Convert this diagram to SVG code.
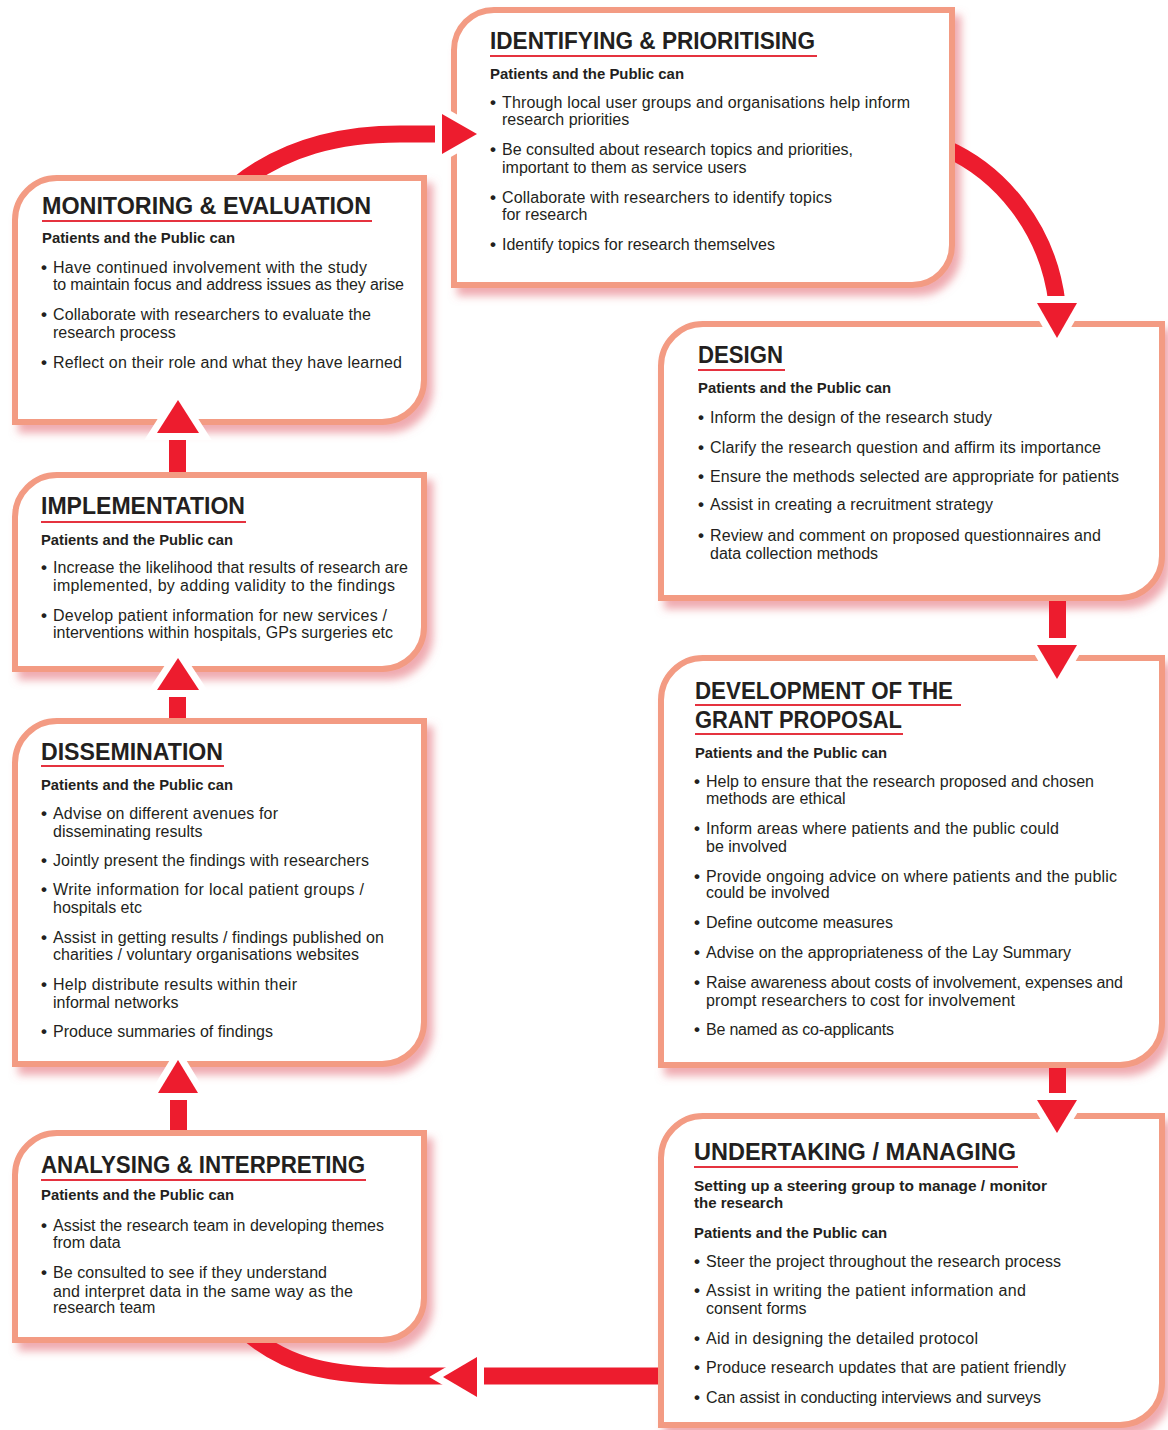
<svg xmlns="http://www.w3.org/2000/svg" width="1168" height="1430" viewBox="0 0 1168 1430">
<defs>
<style>
.box{fill:#fff;stroke:#F39B83;stroke-width:6;filter:url(#sh)}
.t{font-family:"Liberation Sans",Arial,sans-serif;font-size:16px;fill:#231F20}
.b{font-family:"Liberation Sans",Arial,sans-serif;font-size:17px;font-weight:bold;fill:#231F20}
.h{font-family:"Liberation Sans",Arial,sans-serif;font-size:24px;font-weight:bold;fill:#231F20}
.s{font-family:"Liberation Sans",Arial,sans-serif;font-size:15px;font-weight:bold;fill:#231F20}
.ul{stroke:#E5323F;stroke-width:2.2}
.band{fill:none;stroke:#ED1C2E;stroke-width:17}
.bar{fill:#ED1C2E}
.head{fill:#ED1C2E;stroke:#fff;stroke-width:14;stroke-linejoin:miter;paint-order:stroke}
</style>
<filter id="sh" x="-5%" y="-5%" width="115%" height="120%">
<feGaussianBlur in="SourceAlpha" stdDeviation="4"/>
<feOffset dx="6" dy="8" result="b"/>
<feFlood flood-color="#E2646F" flood-opacity="0.55"/>
<feComposite in2="b" operator="in"/>
<feMerge><feMergeNode/><feMergeNode in="SourceGraphic"/></feMerge>
</filter>
<clipPath id="out"><path clip-rule="evenodd" d="M0 0H1168V1430H0Z M451 7H955V288H451Z M12 175H427V425H12Z M658 321H1165V601H658Z M658 655H1165V1068H658Z M658 1113H1165V1428H658Z M12 472H427V672H12Z M12 718H427V1067H12Z M12 1130H427V1343H12Z"/></clipPath>
</defs>
<rect width="1168" height="1430" fill="#fff"/>

<g id="identifying">
<path class="box" d="M454 50A40 40 0 0 1 494 10H952V245A40 40 0 0 1 912 285H454Z"/>
<text class="h" x="490" y="49" textLength="325" lengthAdjust="spacingAndGlyphs">IDENTIFYING &amp; PRIORITISING</text>
<line class="ul" x1="490" y1="56" x2="817" y2="56"/>
<text class="s" x="490" y="79" textLength="194" lengthAdjust="spacingAndGlyphs">Patients and the Public can</text>
<text class="b" x="490" y="108">•</text><text class="t" x="502" y="108" textLength="408">Through local user groups and organisations help inform</text>
<text class="t" x="502" y="125">research priorities</text>
<text class="b" x="490" y="155">•</text><text class="t" x="502" y="155" textLength="351">Be consulted about research topics and priorities,</text>
<text class="t" x="502" y="173">important to them as service users</text>
<text class="b" x="490" y="203">•</text><text class="t" x="502" y="203" textLength="330">Collaborate with researchers to identify topics</text>
<text class="t" x="502" y="220">for research</text>
<text class="b" x="490" y="250">•</text><text class="t" x="502" y="250" textLength="273">Identify topics for research themselves</text>
</g>

<g id="monitoring">
<path class="box" d="M15 220A42 42 0 0 1 57 178H424V380A42 42 0 0 1 382 422H15Z"/>
<text class="h" x="42" y="214" textLength="329" lengthAdjust="spacingAndGlyphs">MONITORING &amp; EVALUATION</text>
<line class="ul" x1="42" y1="221" x2="372" y2="221"/>
<text class="s" x="42" y="243" textLength="193" lengthAdjust="spacingAndGlyphs">Patients and the Public can</text>
<text class="b" x="41" y="273">•</text><text class="t" x="53" y="273" textLength="314">Have continued involvement with the study</text>
<text class="t" x="53" y="290" textLength="351">to maintain focus and address issues as they arise</text>
<text class="b" x="41" y="320">•</text><text class="t" x="53" y="320" textLength="318">Collaborate with researchers to evaluate the</text>
<text class="t" x="53" y="338">research process</text>
<text class="b" x="41" y="368">•</text><text class="t" x="53" y="368" textLength="349">Reflect on their role and what they have learned</text>
</g>

<g id="design">
<path class="box" d="M661 366A42 42 0 0 1 703 324H1162V556A42 42 0 0 1 1120 598H661Z"/>
<text class="h" x="698" y="363" textLength="85" lengthAdjust="spacingAndGlyphs">DESIGN</text>
<line class="ul" x1="698" y1="370" x2="785" y2="370"/>
<text class="s" x="698" y="393" textLength="193" lengthAdjust="spacingAndGlyphs">Patients and the Public can</text>
<text class="b" x="698" y="423">•</text><text class="t" x="710" y="423" textLength="282">Inform the design of the research study</text>
<text class="b" x="698" y="453">•</text><text class="t" x="710" y="453" textLength="391">Clarify the research question and affirm its importance</text>
<text class="b" x="698" y="482">•</text><text class="t" x="710" y="482" textLength="409">Ensure the methods selected are appropriate for patients</text>
<text class="b" x="698" y="510">•</text><text class="t" x="710" y="510" textLength="283">Assist in creating a recruitment strategy</text>
<text class="b" x="698" y="541">•</text><text class="t" x="710" y="541" textLength="391">Review and comment on proposed questionnaires and</text>
<text class="t" x="710" y="559">data collection methods</text>
</g>

<g id="development">
<path class="box" d="M661 700A42 42 0 0 1 703 658H1162V1023A42 42 0 0 1 1120 1065H661Z"/>
<text class="h" x="695" y="699" textLength="258" lengthAdjust="spacingAndGlyphs">DEVELOPMENT OF THE</text>
<line class="ul" x1="695" y1="705" x2="961" y2="705"/>
<text class="h" x="695" y="728" textLength="207" lengthAdjust="spacingAndGlyphs">GRANT PROPOSAL</text>
<line class="ul" x1="695" y1="734" x2="903" y2="734"/>
<text class="s" x="695" y="758" textLength="192" lengthAdjust="spacingAndGlyphs">Patients and the Public can</text>
<text class="b" x="694" y="787">•</text><text class="t" x="706" y="787" textLength="388">Help to ensure that the research proposed and chosen</text>
<text class="t" x="706" y="804">methods are ethical</text>
<text class="b" x="694" y="834">•</text><text class="t" x="706" y="834" textLength="353">Inform areas where patients and the public could</text>
<text class="t" x="706" y="852">be involved</text>
<text class="b" x="694" y="882">•</text><text class="t" x="706" y="882" textLength="411">Provide ongoing advice on where patients and the public</text>
<text class="t" x="706" y="898">could be involved</text>
<text class="b" x="694" y="928">•</text><text class="t" x="706" y="928" textLength="187">Define outcome measures</text>
<text class="b" x="694" y="958">•</text><text class="t" x="706" y="958" textLength="365">Advise on the appropriateness of the Lay Summary</text>
<text class="b" x="694" y="988">•</text><text class="t" x="706" y="988" textLength="417">Raise awareness about costs of involvement, expenses and</text>
<text class="t" x="706" y="1006" textLength="309">prompt researchers to cost for involvement</text>
<text class="b" x="694" y="1035">•</text><text class="t" x="706" y="1035" textLength="188">Be named as co-applicants</text>
</g>

<g id="undertaking">
<path class="box" d="M661 1158A42 42 0 0 1 703 1116H1162V1383A42 42 0 0 1 1120 1425H661Z"/>
<text class="h" x="694" y="1160" textLength="322" lengthAdjust="spacingAndGlyphs">UNDERTAKING / MANAGING</text>
<line class="ul" x1="694" y1="1167" x2="1018" y2="1167"/>
<text class="s" x="694" y="1191" textLength="353" lengthAdjust="spacingAndGlyphs">Setting up a steering group to manage / monitor</text>
<text class="s" x="694" y="1208">the research</text>
<text class="s" x="694" y="1238" textLength="193" lengthAdjust="spacingAndGlyphs">Patients and the Public can</text>
<text class="b" x="694" y="1267">•</text><text class="t" x="706" y="1267" textLength="355">Steer the project throughout the research process</text>
<text class="b" x="694" y="1296">•</text><text class="t" x="706" y="1296" textLength="320">Assist in writing the patient information and</text>
<text class="t" x="706" y="1314">consent forms</text>
<text class="b" x="694" y="1344">•</text><text class="t" x="706" y="1344" textLength="272">Aid in designing the detailed protocol</text>
<text class="b" x="694" y="1373">•</text><text class="t" x="706" y="1373" textLength="360">Produce research updates that are patient friendly</text>
<text class="b" x="694" y="1403">•</text><text class="t" x="706" y="1403" textLength="335">Can assist in conducting interviews and surveys</text>
</g>

<g id="implementation">
<path class="box" d="M15 517A42 42 0 0 1 57 475H424V627A42 42 0 0 1 382 669H15Z"/>
<text class="h" x="41" y="514" textLength="204" lengthAdjust="spacingAndGlyphs">IMPLEMENTATION</text>
<line class="ul" x1="41" y1="522" x2="246" y2="522"/>
<text class="s" x="41" y="545" textLength="192" lengthAdjust="spacingAndGlyphs">Patients and the Public can</text>
<text class="b" x="41" y="573">•</text><text class="t" x="53" y="573" textLength="355">Increase the likelihood that results of research are</text>
<text class="t" x="53" y="591" textLength="342">implemented, by adding validity to the findings</text>
<text class="b" x="41" y="621">•</text><text class="t" x="53" y="621" textLength="334">Develop patient information for new services /</text>
<text class="t" x="53" y="638" textLength="340">interventions within hospitals, GPs surgeries etc</text>
</g>

<g id="dissemination">
<path class="box" d="M15 763A42 42 0 0 1 57 721H424V1022A42 42 0 0 1 382 1064H15Z"/>
<text class="h" x="41" y="760" textLength="182" lengthAdjust="spacingAndGlyphs">DISSEMINATION</text>
<line class="ul" x1="41" y1="766" x2="224" y2="766"/>
<text class="s" x="41" y="790" textLength="192" lengthAdjust="spacingAndGlyphs">Patients and the Public can</text>
<text class="b" x="41" y="819">•</text><text class="t" x="53" y="819" textLength="225">Advise on different avenues for</text>
<text class="t" x="53" y="837">disseminating results</text>
<text class="b" x="41" y="866">•</text><text class="t" x="53" y="866" textLength="316">Jointly present the findings with researchers</text>
<text class="b" x="41" y="895">•</text><text class="t" x="53" y="895" textLength="311">Write information for local patient groups /</text>
<text class="t" x="53" y="913">hospitals etc</text>
<text class="b" x="41" y="943">•</text><text class="t" x="53" y="943" textLength="331">Assist in getting results / findings published on</text>
<text class="t" x="53" y="960" textLength="306">charities / voluntary organisations websites</text>
<text class="b" x="41" y="990">•</text><text class="t" x="53" y="990" textLength="244">Help distribute results within their</text>
<text class="t" x="53" y="1008">informal networks</text>
<text class="b" x="41" y="1037">•</text><text class="t" x="53" y="1037" textLength="220">Produce summaries of findings</text>
</g>

<g id="analysing">
<path class="box" d="M15 1175A42 42 0 0 1 57 1133H424V1298A42 42 0 0 1 382 1340H15Z"/>
<text class="h" x="41" y="1173" textLength="324" lengthAdjust="spacingAndGlyphs">ANALYSING &amp; INTERPRETING</text>
<line class="ul" x1="41" y1="1180" x2="366" y2="1180"/>
<text class="s" x="41" y="1200" textLength="193" lengthAdjust="spacingAndGlyphs">Patients and the Public can</text>
<text class="b" x="41" y="1231">•</text><text class="t" x="53" y="1231" textLength="331">Assist the research team in developing themes</text>
<text class="t" x="53" y="1248">from data</text>
<text class="b" x="41" y="1278">•</text><text class="t" x="53" y="1278" textLength="274">Be consulted to see if they understand</text>
<text class="t" x="53" y="1297" textLength="300">and interpret data in the same way as the</text>
<text class="t" x="53" y="1313">research team</text>
</g>

<g id="connectors">
<g clip-path="url(#out)">
<path class="band" d="M236 186C284 147 340 134 400 134L442 134"/>
<path class="band" d="M945 148C1000 172 1048 228 1057 303"/>
<rect class="bar" x="1049" y="598" width="17" height="47"/>
<rect class="bar" x="1049" y="1065" width="17" height="35"/>
<path class="band" d="M662 1376H400C330 1376 288 1366 250 1335"/>
<rect class="bar" x="170" y="1093" width="17" height="40"/>
<rect class="bar" x="169" y="690" width="17" height="31"/>
<rect class="bar" x="169" y="433" width="17" height="42"/>
</g>
<polygon class="head" points="442,114 442,154 477,134"/>
<polygon class="head" points="1037,303 1077,303 1057,338"/>
<polygon class="head" points="1037,645 1077,645 1057,679"/>
<polygon class="head" points="1037,1100 1077,1100 1057,1133"/>
<polygon class="head" points="477,1357 477,1397 443,1377"/>
<polygon class="head" points="158,1093 198,1093 178,1060"/>
<polygon class="head" points="157,690 199,690 178,658"/>
<polygon class="head" points="157,433 199,433 178,400"/>
</g>
</svg>
